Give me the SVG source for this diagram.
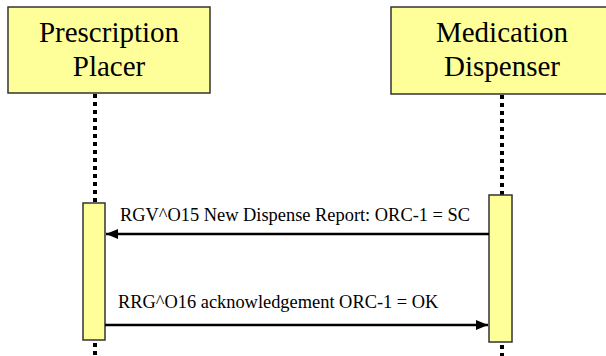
<svg xmlns="http://www.w3.org/2000/svg" width="606" height="356" viewBox="0 0 606 356">
<defs>
<style>
.actor{fill:#FFFF99;stroke:#333;stroke-width:1.5}
.act{fill:#FFFF99;stroke:#333;stroke-width:1.5}
.life{stroke:#000;stroke-width:4;stroke-dasharray:4 4;fill:none}
.head{font-family:"Liberation Serif","Times New Roman",serif;font-size:29px;fill:#000;text-anchor:middle}
.lbl{font-family:"Liberation Serif","Times New Roman",serif;font-size:18.4px;fill:#000}
.msg{stroke:#000;stroke-width:2.5;fill:none}
</style>
<marker id="ah" markerWidth="12" markerHeight="10" refX="12" refY="5" orient="auto" markerUnits="userSpaceOnUse">
<path d="M0,0 L12,5 L0,10 Z" fill="#000"/>
</marker>
</defs>
<rect width="606" height="356" fill="#fff"/>
<g id="lifelines">
<line class="life" x1="95" y1="94" x2="95" y2="203"/>
<line class="life" x1="95" y1="343" x2="95" y2="356"/>
<line class="life" x1="502" y1="95" x2="502" y2="195"/>
<line class="life" x1="502" y1="345" x2="502" y2="356"/>
</g>
<g id="placer">
<rect class="actor" x="8" y="7" width="202" height="86"/>
<text class="head" x="109" y="42">Prescription</text>
<text class="head" x="109" y="76">Placer</text>
</g>
<g id="dispenser">
<rect class="actor" x="391" y="7" width="230" height="87"/>
<text class="head" x="502" y="42">Medication</text>
<text class="head" x="502" y="76">Dispenser</text>
</g>
<g id="placer-activation">
<rect class="act" x="83" y="203" width="22" height="137"/>
</g>
<g id="dispenser-activation">
<rect class="act" x="489" y="195" width="23" height="147"/>
</g>
<g id="connectors">
<line class="msg" x1="489" y1="234" x2="106" y2="234" marker-end="url(#ah)"/>
<text class="lbl" x="120" y="221">RGV^O15 New Dispense Report: ORC-1 = SC</text>
<line class="msg" x1="105" y1="325" x2="488" y2="325" marker-end="url(#ah)"/>
<text class="lbl" x="118" y="308">RRG^O16 acknowledgement ORC-1 = OK</text>
</g>
</svg>
